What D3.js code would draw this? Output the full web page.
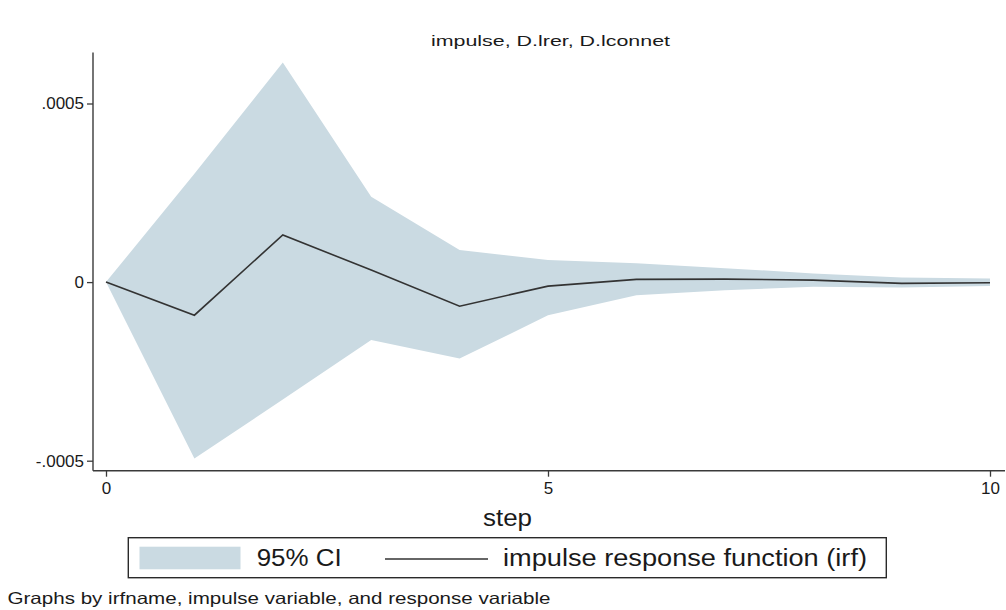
<!DOCTYPE html>
<html>
<head>
<meta charset="utf-8">
<script src="https://cdn.jsdelivr.net/npm/d3@7/dist/d3.min.js"></script>
<style>
  html, body { margin: 0; padding: 0; background: #ffffff; }
  svg { display: block; }
  text { font-family: "Liberation Sans", Arial, sans-serif; fill: #1a1a1a; }
</style>
</head>
<body>
<svg id="chart" width="1006" height="610"></svg>
<script>
// ---- data ----
const steps = [0, 1, 2, 3, 4, 5, 6, 7, 8, 9, 10];
const irf   = [0, -0.0000927, 0.000132, 0.0000337, -0.0000674, -0.0000112, 0.0000076, 0.0000084, 0.0000056, -0.0000037, -0.000002];
const ciUpper = [0, 0.000303, 0.000615, 0.000239, 0.00009, 0.000062, 0.0000525, 0.000039, 0.0000244, 0.0000132, 0.0000104];
const ciLower = [0, -0.000494, -0.000329, -0.000162, -0.000214, -0.000093, -0.0000365, -0.0000225, -0.0000132, -0.000015, -0.0000112];
const yTicks = [-0.0005, 0, 0.0005];
const yTickLabels = ["-.0005", "0", ".0005"];
const xTicks = [0, 5, 10];
const xTickLabels = ["0", "5", "10"];
const titleText = "impulse, D.lrer, D.lconnet";
const xTitle = "step";
const legendLabels = ["95% CI", "impulse response function (irf)"];
const noteText = "Graphs by irfname, impulse variable, and response variable";

const bandColor = "#cadae2";
const lineColor = "#333333";
const axisColor = "#3a3a3a";

const svg = d3.select("#chart");

const x = d3.scaleLinear().domain([0, 10]).range([106, 990]);
const y = d3.scaleLinear().domain([-0.0005, 0.0005]).range([460.7, 103.5]);

const axisX0 = 93, axisY0 = 470.7;

// CI band
const data = steps.map((s, i) => ({ s, irf: irf[i], lo: ciLower[i], hi: ciUpper[i] }));
svg.append("path")
  .datum(data)
  .attr("fill", bandColor)
  .attr("d", d3.area().x(d => x(d.s)).y0(d => y(d.lo)).y1(d => y(d.hi)));

// IRF line
svg.append("path")
  .datum(data)
  .attr("fill", "none")
  .attr("stroke", lineColor)
  .attr("stroke-width", 1.6)
  .attr("d", d3.line().x(d => x(d.s)).y(d => y(d.irf)));

// Axes lines
svg.append("line").attr("x1", axisX0).attr("x2", axisX0).attr("y1", 52.5).attr("y2", axisY0)
  .attr("stroke", axisColor).attr("stroke-width", 1.4);
svg.append("line").attr("x1", axisX0).attr("x2", 1005).attr("y1", axisY0).attr("y2", axisY0)
  .attr("stroke", axisColor).attr("stroke-width", 1.4);

// Y axis
const yAxis = d3.axisLeft(y).tickValues(yTicks).tickSize(6).tickPadding(3)
  .tickFormat((d, i) => yTickLabels[i]);
const gy = svg.append("g").attr("transform", `translate(${axisX0},0)`).call(yAxis);
gy.select(".domain").remove();
gy.selectAll(".tick line").attr("stroke", axisColor).attr("stroke-width", 1.3);
gy.selectAll(".tick text").attr("font-size", 17).attr("fill", "#1a1a1a")
  .attr("font-family", "Liberation Sans, Arial, sans-serif");

// X axis
const xAxis = d3.axisBottom(x).tickValues(xTicks).tickSize(6).tickPadding(5)
  .tickFormat((d, i) => xTickLabels[i]);
const gx = svg.append("g").attr("transform", `translate(0,${axisY0})`).call(xAxis);
gx.select(".domain").remove();
gx.selectAll(".tick line").attr("stroke", axisColor).attr("stroke-width", 1.3);
gx.selectAll(".tick text").attr("font-size", 17).attr("fill", "#1a1a1a")
  .attr("font-family", "Liberation Sans, Arial, sans-serif");

// helper for text stretched to a measured width (the reference is wider than Arial)
function fitText(sel, w) {
  return sel.attr("textLength", w).attr("lengthAdjust", "spacingAndGlyphs");
}

// Title
fitText(svg.append("text").attr("x", 431).attr("y", 45.5)
  .attr("font-size", 15.5).text(titleText), 239);

// X title
fitText(svg.append("text").attr("x", 483).attr("y", 526)
  .attr("font-size", 23).text(xTitle), 49);

// Legend
svg.append("rect").attr("x", 128.3).attr("y", 537.7).attr("width", 758).attr("height", 40)
  .attr("fill", "#ffffff").attr("stroke", "#2a2a2a").attr("stroke-width", 1.4);
svg.append("rect").attr("x", 139.5).attr("y", 546.7).attr("width", 101).attr("height", 22.6)
  .attr("fill", bandColor);
fitText(svg.append("text").attr("x", 256.7).attr("y", 566).attr("font-size", 23).text(legendLabels[0]), 85);
svg.append("line").attr("x1", 385).attr("x2", 488).attr("y1", 559).attr("y2", 559)
  .attr("stroke", lineColor).attr("stroke-width", 1.6);
fitText(svg.append("text").attr("x", 503).attr("y", 566).attr("font-size", 23).text(legendLabels[1]), 364);

// Note
fitText(svg.append("text").attr("x", 7.5).attr("y", 604).attr("font-size", 16.5).text(noteText), 543);
</script>
</body>
</html>
